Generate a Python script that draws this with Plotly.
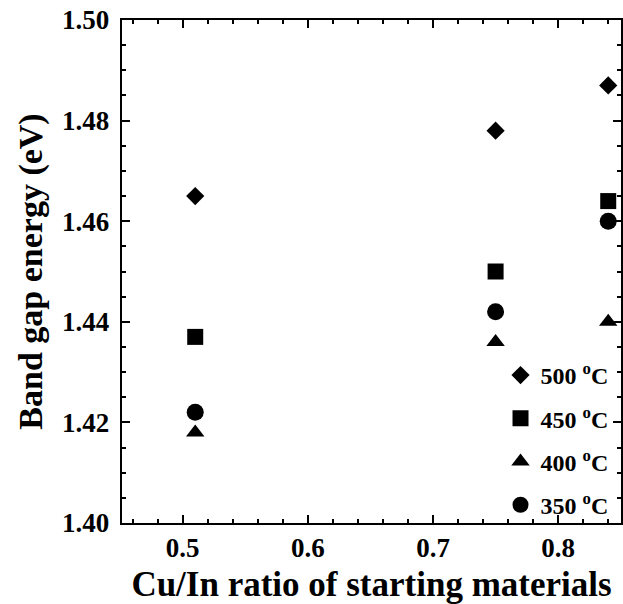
import plotly.graph_objects as go

ratios = [0.51, 0.75, 0.84]
t500 = [1.465, 1.478, 1.487]
t450 = [1.437, 1.450, 1.464]
t400 = [1.418, 1.436, 1.440]
t350 = [1.422, 1.442, 1.460]

series = [
    ("500 <sup>o</sup>C", t500, "diamond", 14),
    ("450 <sup>o</sup>C", t450, "square", 16),
    ("400 <sup>o</sup>C", t400, "triangle-up", 16),
    ("350 <sup>o</sup>C", t350, "circle", 17),
]

FONT = "Liberation Serif"
fig = go.Figure()
for i, (name, vals, sym, sz) in enumerate(series):
    fig.add_trace(go.Scatter(x=ratios, y=vals, mode="markers", name=name,
                             legendgroup=f"g{i}",
                             marker=dict(symbol=sym, size=sz, color="black")))

xr = [0.4515, 0.8502]
yr = [1.40, 1.50]
fig.update_layout(
    width=623, height=604,
    margin=dict(l=122, r=0, t=20, b=81),
    paper_bgcolor="white", plot_bgcolor="white",
    font=dict(family=FONT, color="black", size=27, weight="bold"),
    xaxis=dict(range=xr, showgrid=False, zeroline=False, showline=True, linecolor="black",
               linewidth=2, mirror="allticks", ticks="inside", ticklen=8, tickwidth=2,
               tickcolor="black", dtick=0.1, tick0=0.5, tickformat=".1f",
               tickfont=dict(family=FONT, size=27, weight="bold"),
               minor=dict(dtick=0.02, ticks="inside", ticklen=4, tickwidth=2, tickcolor="black"),
               title=dict(text="Cu/In ratio of starting materials",
                          font=dict(family=FONT, size=35, weight="bold"), standoff=9)),
    yaxis=dict(range=yr, showgrid=False, zeroline=False, showline=True, linecolor="black",
               linewidth=2, mirror="allticks", ticks="inside", ticklen=8, tickwidth=2,
               tickcolor="black", dtick=0.02, tick0=1.40, tickformat=".2f",
               tickfont=dict(family=FONT, size=27, weight="bold"), ticksuffix="\u2009",
               minor=dict(dtick=0.005, ticks="inside", ticklen=4, tickwidth=2, tickcolor="black"),
               title=dict(text="Band gap energy (eV)",
                          font=dict(family=FONT, size=34, weight="bold"), standoff=9)),
    legend=dict(x=0.985, xanchor="right", y=-0.008, yanchor="bottom", bgcolor="rgba(0,0,0,0)",
                font=dict(family=FONT, size=24, weight="bold"), traceorder="grouped",
                tracegroupgap=9, itemwidth=30),
    showlegend=True,
)

fig.write_html("out.html")
